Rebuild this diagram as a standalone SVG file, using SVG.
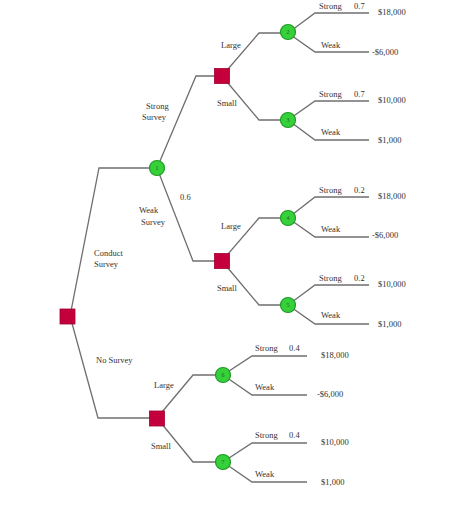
<svg xmlns="http://www.w3.org/2000/svg" width="468" height="513" viewBox="0 0 468 513">
<style>
.e{fill:none;stroke:#6f6f6f;stroke-width:1.3}
.d{fill:#c4003c;stroke:#a00030;stroke-width:0.8}
.c{fill:#35d03a;stroke:#1f9a25;stroke-width:1.2}
.t{font-family:"Liberation Serif",serif;font-size:8.5px;fill:#333}
.n{font-family:"Liberation Serif",serif;font-size:6px;fill:#1a6a1a;text-anchor:middle}
</style>
<rect width="468" height="513" fill="#fff"/>
<g id="connectors">
<path class="e" d="M70,316 L99,168 L157,168"/>
<path class="e" d="M70,316 L98,418 L157,418"/>
<path class="e" d="M157,168 L196,76 L222,76"/>
<path class="e" d="M157,168 L193,261 L222,261"/>
<path class="e" d="M222,76 L259,33 L288,33"/>
<path class="e" d="M222,76 L259,120 L288,120"/>
<path class="e" d="M222,261 L259,218 L288,218"/>
<path class="e" d="M222,261 L259,305 L288,305"/>
<path class="e" d="M157,418 L193,375 L223,375"/>
<path class="e" d="M157,418 L193,462 L223,462"/>
<path class="e" d="M288,33 L315,13 L369,13 M288,33 L315,52 L369,52"/>
<path class="e" d="M288,120 L315,101 L369,101 M288,120 L315,140 L369,140"/>
<path class="e" d="M288,218 L315,197 L369,197 M288,218 L315,237 L369,237"/>
<path class="e" d="M288,305 L315,285 L369,285 M288,305 L315,324 L369,324"/>
<path class="e" d="M223,375 L252,356 L307,356 M223,375 L252,395 L307,395"/>
<path class="e" d="M223,462 L252,443 L307,443 M223,462 L252,482 L307,482"/>
</g>
<g id="root"><rect class="d" x="60" y="309" width="15" height="15"/></g>
<g id="d1"><rect class="d" x="214.5" y="68.5" width="15" height="15"/></g>
<g id="d2"><rect class="d" x="214.5" y="253.5" width="15" height="15"/></g>
<g id="d3"><rect class="d" x="149.5" y="411" width="15" height="15"/></g>
<g id="c1"><circle class="c" cx="157" cy="168" r="7.5"/><text class="n" x="157" y="170">1</text></g>
<g id="c2"><circle class="c" cx="288" cy="32" r="7.5"/><text class="n" x="288" y="34">2</text></g>
<g id="c3"><circle class="c" cx="288" cy="120" r="7.5"/><text class="n" x="288" y="122">3</text></g>
<g id="c4"><circle class="c" cx="288" cy="218" r="7.5"/><text class="n" x="288" y="220">4</text></g>
<g id="c5"><circle class="c" cx="288" cy="305" r="7.5"/><text class="n" x="288" y="307">5</text></g>
<g id="c6"><circle class="c" cx="223" cy="375" r="7.5"/><text class="n" x="223" y="377">6</text></g>
<g id="c7"><circle class="c" cx="223" cy="462" r="7.5"/><text class="n" x="223" y="464">7</text></g>
<g id="labels" class="t">
<text class="t" x="94" y="256">Conduct</text>
<text class="t" x="94" y="267">Survey</text>
<text class="t" x="96" y="363">No Survey</text>
<text class="t" x="146" y="109">Strong</text>
<text class="t" x="142" y="120">Survey</text>
<text class="t" x="180" y="200">0.6</text>
<text class="t" x="139" y="213">Weak</text>
<text class="t" x="141" y="225">Survey</text>
<text class="t" x="221" y="48">Large</text>
<text class="t" x="217" y="106">Small</text>
<text class="t" x="221" y="229">Large</text>
<text class="t" x="217" y="291">Small</text>
<text class="t" x="154" y="388">Large</text>
<text class="t" x="151" y="449">Small</text>
<text class="t" x="319" y="8.5">Strong</text><text class="t" x="354" y="8.5">0.7</text><text class="t" x="378" y="15">$18,000</text>
<text class="t" x="321" y="47.5">Weak</text><text class="t" x="372" y="55">-$6,000</text>
<text class="t" x="319" y="96.5">Strong</text><text class="t" x="354" y="96.5">0.7</text><text class="t" x="378" y="102.5">$10,000</text>
<text class="t" x="321" y="135">Weak</text><text class="t" x="378" y="143">$1,000</text>
<text class="t" x="319" y="193">Strong</text><text class="t" x="354" y="193">0.2</text><text class="t" x="378" y="199">$18,000</text>
<text class="t" x="321" y="232">Weak</text><text class="t" x="372" y="238">-$6,000</text>
<text class="t" x="319" y="280.5">Strong</text><text class="t" x="354" y="280.5">0.2</text><text class="t" x="378" y="287">$10,000</text>
<text class="t" x="321" y="318">Weak</text><text class="t" x="378" y="327">$1,000</text>
<text class="t" x="255" y="351">Strong</text><text class="t" x="289" y="351">0.4</text><text class="t" x="321" y="358">$18,000</text>
<text class="t" x="255" y="390">Weak</text><text class="t" x="317" y="397">-$6,000</text>
<text class="t" x="255" y="438">Strong</text><text class="t" x="289" y="438">0.4</text><text class="t" x="321" y="445">$10,000</text>
<text class="t" x="255" y="477">Weak</text><text class="t" x="321" y="485">$1,000</text>
</g>
</svg>
